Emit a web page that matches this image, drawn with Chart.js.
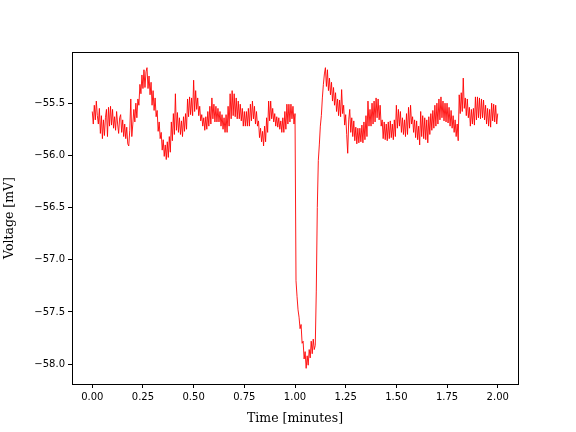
<!DOCTYPE html>
<html>
<head>
<meta charset="utf-8">
<script src="https://cdn.jsdelivr.net/npm/chart.js@4.4.0/dist/chart.umd.min.js"></script>
<style>
  html, body { margin: 0; padding: 0; background: #fff; }
  #wrap { width: 576px; height: 432px; }
</style>
</head>
<body>
<div id="wrap"><canvas id="trace" width="576" height="432"></canvas></div>
<script>
// time step of the trace, in minutes
var timeStep = 0.005;

// voltage, one value per 0.005 min (0.000 .. 2.000)
var voltage = [
  -55.58, -55.70, -55.52, -55.66, -55.48, -55.62, -55.70, -55.55, -55.79, -55.62,
  -55.84, -55.66, -55.81, -55.64, -55.56, -55.82, -55.54, -55.72, -55.53, -55.71,
  -55.56, -55.74, -55.63, -55.76, -55.58, -55.70, -55.79, -55.64, -55.61, -55.78,
  -55.66, -55.82, -55.70, -55.84, -55.73, -55.89, -55.91, -55.76, -55.46, -55.82,
  -55.70, -55.56, -55.68, -55.50, -55.64, -55.46, -55.52, -55.32, -55.41, -55.23,
  -55.36, -55.18, -55.35, -55.20, -55.16, -55.36, -55.24, -55.42, -55.30, -55.52,
  -55.38, -55.57, -55.45, -55.63, -55.57, -55.77, -55.68, -55.84, -55.78, -55.95,
  -55.85, -56.01, -55.90, -56.04, -55.87, -56.02, -55.82, -55.97, -55.68, -55.86,
  -55.60, -55.80, -55.41, -55.76, -55.59, -55.78, -55.64, -55.80, -55.67, -55.82,
  -55.63, -55.77, -55.60, -55.75, -55.46, -55.63, -55.44, -55.61, -55.45, -55.62,
  -55.28, -55.58, -55.38, -55.56, -55.45, -55.62, -55.53, -55.67, -55.61, -55.72,
  -55.64, -55.76, -55.63, -55.75, -55.58, -55.72, -55.53, -55.70, -55.45, -55.65,
  -55.51, -55.68, -55.53, -55.68, -55.55, -55.68, -55.58, -55.72, -55.61, -55.75,
  -55.64, -55.78, -55.61, -55.78, -55.53, -55.72, -55.41, -55.65, -55.38, -55.62,
  -55.41, -55.63, -55.45, -55.65, -55.48, -55.65, -55.51, -55.67, -55.55, -55.72,
  -55.58, -55.72, -55.58, -55.72, -55.55, -55.72, -55.51, -55.67, -55.48, -55.65,
  -55.53, -55.70, -55.58, -55.72, -55.67, -55.83, -55.74, -55.87, -55.77, -55.91,
  -55.72, -55.87, -55.64, -55.78, -55.48, -55.67, -55.48, -55.65, -55.55, -55.68,
  -55.60, -55.72, -55.63, -55.73, -55.64, -55.75, -55.67, -55.78, -55.64, -55.78,
  -55.58, -55.75, -55.51, -55.70, -55.51, -55.68, -55.51, -55.65, -55.53, -55.70,
  -55.60, -57.20, -57.35, -57.48, -57.55, -57.66, -57.62, -57.80, -57.78, -57.95,
  -57.88, -58.04, -57.92, -58.01, -57.86, -57.94, -57.78, -57.90, -57.76, -57.86,
  -57.82, -57.30, -56.50, -56.05, -55.90, -55.72, -55.62, -55.45, -55.32, -55.22,
  -55.16, -55.34, -55.18, -55.38, -55.26, -55.42, -55.30, -55.48, -55.35, -55.52,
  -55.40, -55.58, -55.46, -55.62, -55.47, -55.63, -55.37, -55.60, -55.52, -55.71,
  -55.61, -55.80, -55.98, -55.66, -55.56, -55.78, -55.64, -55.82, -55.67, -55.86,
  -55.73, -55.89, -55.74, -55.88, -55.74, -55.87, -55.71, -55.88, -55.68, -55.85,
  -55.62, -55.82, -55.48, -55.72, -55.56, -55.72, -55.50, -55.70, -55.48, -55.68,
  -55.45, -55.64, -55.46, -55.66, -55.52, -55.72, -55.66, -55.84, -55.68, -55.85,
  -55.70, -55.86, -55.68, -55.84, -55.67, -55.83, -55.70, -55.85, -55.66, -55.82,
  -55.52, -55.74, -55.56, -55.72, -55.58, -55.78, -55.64, -55.80, -55.66, -55.82,
  -55.60, -55.80, -55.54, -55.74, -55.52, -55.70, -55.63, -55.78, -55.66, -55.83,
  -55.67, -55.85, -55.72, -55.90, -55.58, -55.82, -55.62, -55.84, -55.64, -55.85,
  -55.66, -55.88, -55.63, -55.80, -55.60, -55.76, -55.57, -55.74, -55.52, -55.72,
  -55.50, -55.70, -55.46, -55.66, -55.44, -55.64, -55.48, -55.67, -55.50, -55.68,
  -55.50, -55.69, -55.54, -55.72, -55.57, -55.74, -55.62, -55.78, -55.66, -55.82,
  -55.70, -55.86, -55.42, -55.60, -55.40, -55.58, -55.26, -55.55, -55.45, -55.62,
  -55.46, -55.64, -55.54, -55.72, -55.56, -55.70, -55.55, -55.71, -55.44, -55.66,
  -55.44, -55.64, -55.45, -55.65, -55.46, -55.64, -55.47, -55.66, -55.52, -55.70,
  -55.55, -55.72, -55.56, -55.73, -55.50, -55.67, -55.51, -55.68, -55.52, -55.70,
  -55.60
];

// tick labels
var xTicks = [0.00, 0.25, 0.50, 0.75, 1.00, 1.25, 1.50, 1.75, 2.00];
var yTicks = [-55.5, -56.0, -56.5, -57.0, -57.5, -58.0];

var points = voltage.map(function(v, i) {
    return { x: +(i * timeStep).toFixed(3), y: v };
});

// black frame around the plot area, like matplotlib spines
var framePlugin = {
    id: 'frame',
    afterDraw: function(chart) {
        var a = chart.chartArea;
        var ctx = chart.ctx;
        ctx.save();
        ctx.strokeStyle = '#000';
        ctx.lineWidth = 1;
        ctx.strokeRect(Math.round(a.left) + 0.5, Math.round(a.top) + 0.5,
                       Math.round(a.right - a.left), Math.round(a.bottom - a.top));
        ctx.restore();
    }
};

function minus(s) {
    return s.replace('-', '\u2212');
}

var ctx = document.getElementById('trace').getContext('2d');
new Chart(ctx, {
    type: 'line',
    data: {
        datasets: [{
            data: points,
            borderColor: '#ff0000',
            borderWidth: 0.9,
            pointRadius: 0,
            tension: 0,
            fill: false
        }]
    },
    plugins: [framePlugin],
    options: {
        responsive: false,
        animation: false,
        layout: { padding: { left: 0, right: 58, top: 52, bottom: 0 } },
        plugins: {
            legend: { display: false },
            tooltip: { enabled: false }
        },
        scales: {
            x: {
                type: 'linear',
                min: -0.1,
                max: 2.1,
                afterBuildTicks: function(scale) {
                    scale.ticks = xTicks.map(function(v) { return { value: v }; });
                },
                afterFit: function(scale) { scale.height = 48; },
                grid: { drawOnChartArea: false, drawTicks: true, tickLength: 4, tickColor: '#000', color: '#000' },
                border: { display: false },
                ticks: {
                    color: '#000',
                    padding: 3,
                    maxRotation: 0,
                    font: { family: 'DejaVu Sans', size: 10 },
                    callback: function(value) { return minus(value.toFixed(2)); }
                },
                title: {
                    display: true,
                    text: 'Time [minutes]',
                    color: '#000',
                    font: { family: 'DejaVu Serif', size: 12.5 },
                    padding: { top: 2, bottom: 6 }
                }
            },
            y: {
                type: 'linear',
                min: -58.19,
                max: -55.01,
                afterBuildTicks: function(scale) {
                    scale.ticks = yTicks.map(function(v) { return { value: v }; });
                },
                afterFit: function(scale) { scale.width = 72; },
                grid: { drawOnChartArea: false, drawTicks: true, tickLength: 4, tickColor: '#000', color: '#000' },
                border: { display: false },
                ticks: {
                    color: '#000',
                    padding: 3,
                    font: { family: 'DejaVu Sans', size: 10 },
                    callback: function(value) { return minus(value.toFixed(1)); }
                },
                title: {
                    display: true,
                    text: 'Voltage [mV]',
                    color: '#000',
                    font: { family: 'DejaVu Serif', size: 12.5 },
                    padding: { top: 2, bottom: 2 }
                }
            }
        }
    }
});
</script>
</body>
</html>
